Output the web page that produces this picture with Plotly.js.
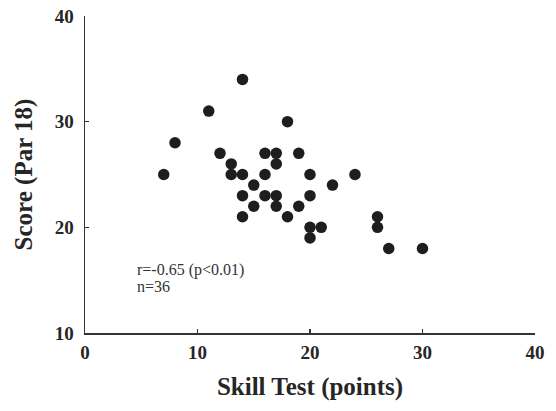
<!DOCTYPE html>
<html>
<head>
<meta charset="utf-8">
<script src="https://cdn.plot.ly/plotly-3.0.1.min.js"></script>
<style>html,body{margin:0;padding:0;background:#fff;}#chart{width:556px;height:411px;}</style>
</head>
<body>
<div id="chart"></div>
<script>
const skillTest = [7, 8, 11, 12, 13, 13, 14, 14, 14, 14, 15, 15, 16, 16, 16, 17, 17, 17, 17, 18, 18, 19, 19, 20, 20, 20, 20, 21, 22, 24, 26, 26, 27, 30];
const score     = [25, 28, 31, 27, 26, 25, 34, 25, 23, 21, 24, 22, 27, 25, 23, 27, 26, 23, 22, 30, 21, 27, 22, 25, 23, 20, 19, 20, 24, 25, 21, 20, 18, 18];
const xTicks = [0, 10, 20, 30, 40];
const yTicks = [10, 20, 30, 40];
const statLines = ["r=-0.65 (p<0.01)", "n=36"];

const trace = {
  x: skillTest, y: score, mode: 'markers', type: 'scatter',
  marker: {size: 11.5, color: '#1e1e1e'}, hoverinfo: 'skip'
};
const serif = 'Liberation Serif, Times New Roman, serif';
const tickFont = {family: serif, size: 19, color: '#262626', weight: 'bold'};
const titleFont = {family: serif, size: 25, color: '#262626', weight: 'bold'};
const layout = {
  width: 556, height: 411,
  margin: {l: 85, r: 21, t: 16, b: 78},
  paper_bgcolor: '#fff', plot_bgcolor: '#fff',
  showlegend: false,
  xaxis: {
    range: [0, 40], tickvals: xTicks, ticktext: xTicks.map(String),
    showgrid: false, zeroline: false, showline: true, linecolor: '#333', linewidth: 1.5,
    ticks: 'inside', ticklen: 4, tickcolor: '#333', tickwidth: 1.5,
    tickfont: tickFont, fixedrange: true, ticklabelstandoff: 2,
    title: {text: 'Skill Test (points)', font: titleFont, standoff: 15}
  },
  yaxis: {
    range: [10, 40], tickvals: yTicks, ticktext: yTicks.map(String),
    showgrid: false, zeroline: false, showline: true, linecolor: '#333', linewidth: 1.5,
    ticks: 'inside', ticklen: 4, tickcolor: '#333', tickwidth: 1.5,
    tickfont: tickFont, fixedrange: true, ticklabelstandoff: 6,
    title: {text: 'Score (Par 18)', font: titleFont, standoff: 15}
  },
  annotations: statLines.map((t, i) => ({
    x: 4.4, y: 16.0 - i * 1.6, xref: 'x', yref: 'y', xanchor: 'left', yanchor: 'middle',
    text: t, showarrow: false, align: 'left',
    font: {family: serif, size: 16, color: '#333'}
  }))
};
Plotly.newPlot('chart', [trace], layout, {staticPlot: true, displayModeBar: false});
</script>
</body>
</html>
